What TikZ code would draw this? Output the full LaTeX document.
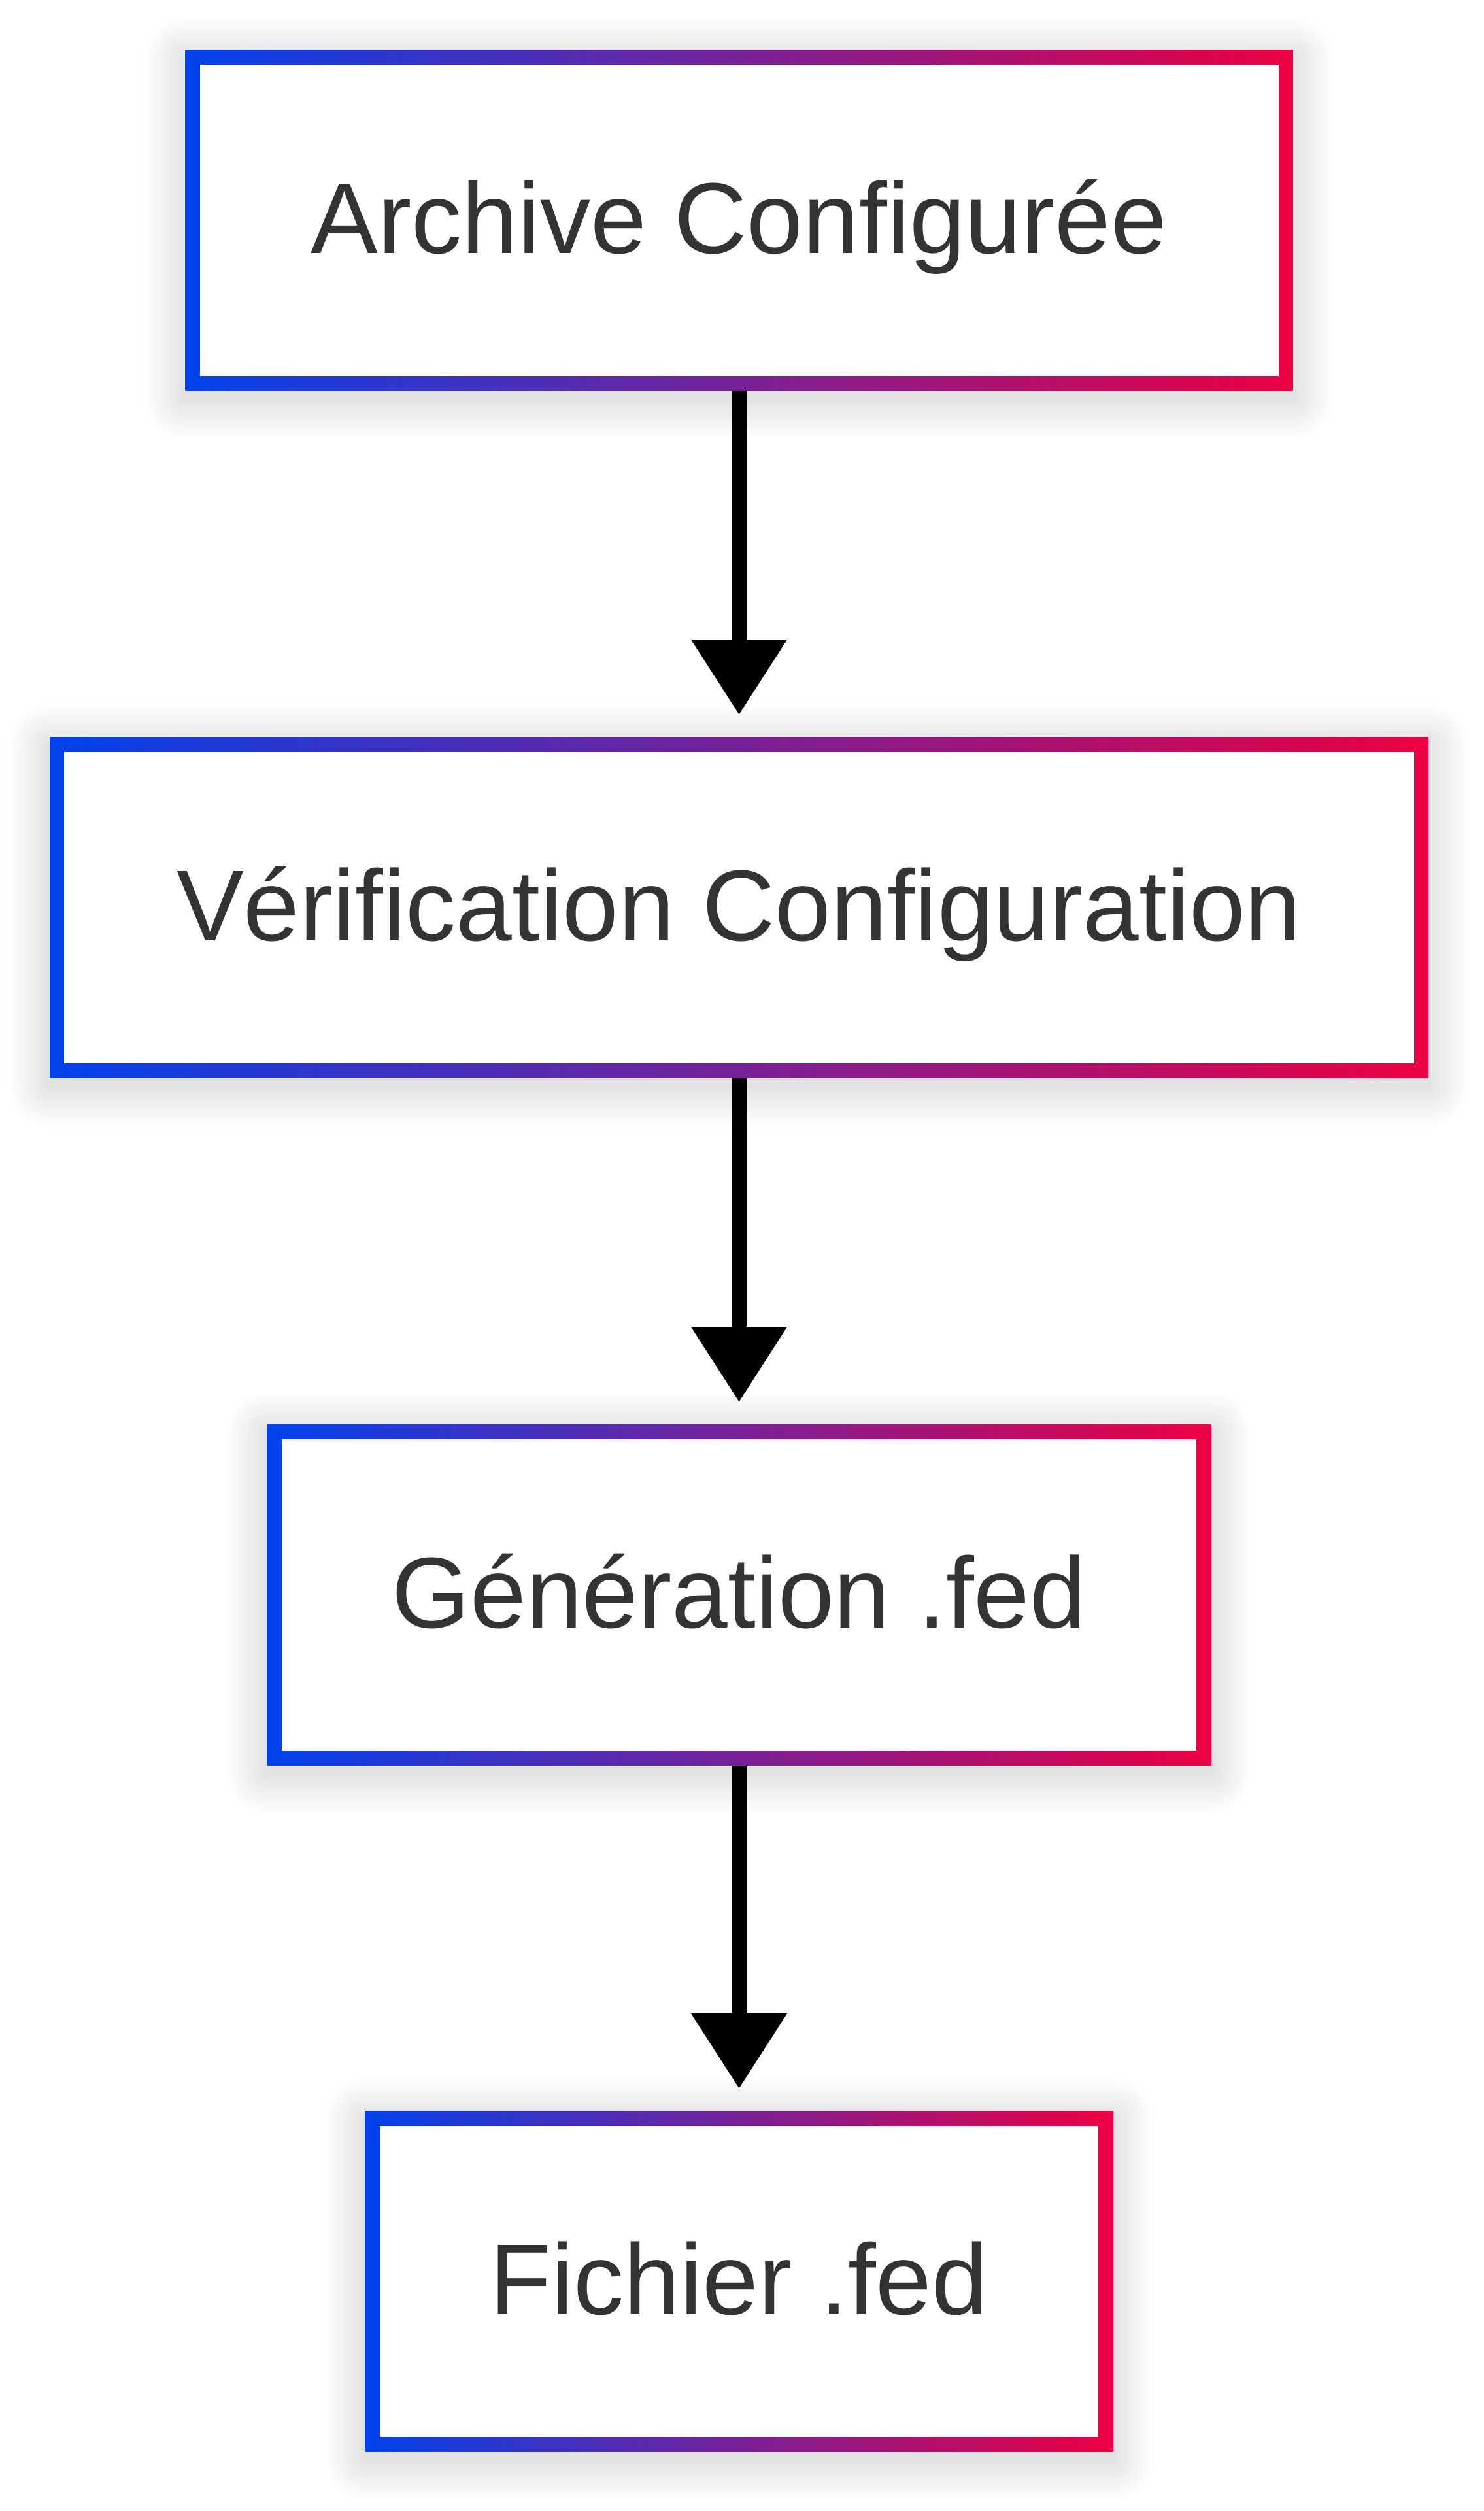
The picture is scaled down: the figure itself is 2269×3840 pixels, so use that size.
\documentclass[tikz,border=0pt]{standalone}
\usepackage{fontspec}
\setmainfont{Liberation Sans}
\usetikzlibrary{arrows.meta,backgrounds}
\definecolor{gblue}{RGB}{2,66,236}
\definecolor{gred}{RGB}{236,0,66}
\definecolor{txt}{RGB}{51,51,51}
\tikzset{
  flowbox/.style={rectangle, inner sep=0pt, minimum height=5.2cm,
    text height=1.5cm, text depth=0.5cm,
    left color=gblue, right color=gred, shading angle=90,
    path picture={\fill[white] ([shift={(0.22cm,-0.22cm)}]path picture bounding box.north west)
       rectangle ([shift={(-0.22cm,0.22cm)}]path picture bounding box.south east);},
    text=txt, font=\fontsize{43.8pt}{52pt}\selectfont},
  flowarrow/.style={line width=0.22cm, black, shorten >=0.34cm,
    -{Triangle[width=1.41cm,length=1.15cm]}},
  softshade/.style={black, opacity=0.0055}
}
\newcommand{\boxshadow}[1]{%
  \foreach \k in {1,...,28}{%
    \pgfmathsetmacro\rr{\k*0.022}%
    \fill[softshade, rounded corners=\rr cm]
      ([shift={(-\rr cm,\rr cm-0.12cm)}]#1.north west) rectangle
      ([shift={(\rr cm,-\rr cm-0.12cm)}]#1.south east);%
  }}
\begin{document}
\begin{tikzpicture}[x=0.01cm,y=-0.01cm]
\useasboundingbox (0,0) rectangle (2269,3840);
\node[flowbox, minimum width=16.93cm] (a) at (1130.5,337) {Archive Configurée};
\node[flowbox, minimum width=21.07cm] (b) at (1130.5,1388) {Vérification Configuration};
\node[flowbox, minimum width=14.43cm] (c) at (1130.5,2439) {Génération .fed};
\node[flowbox, minimum width=11.43cm] (d) at (1130.5,3489) {Fichier .fed};
\begin{scope}[on background layer]
\fill[white] (0,0) rectangle (2269,3840);
\boxshadow{a}
\boxshadow{b}
\boxshadow{c}
\boxshadow{d}
\end{scope}
\draw[flowarrow] (a.south) -- (b.north);
\draw[flowarrow] (b.south) -- (c.north);
\draw[flowarrow] (c.south) -- (d.north);
\end{tikzpicture}
\end{document}
